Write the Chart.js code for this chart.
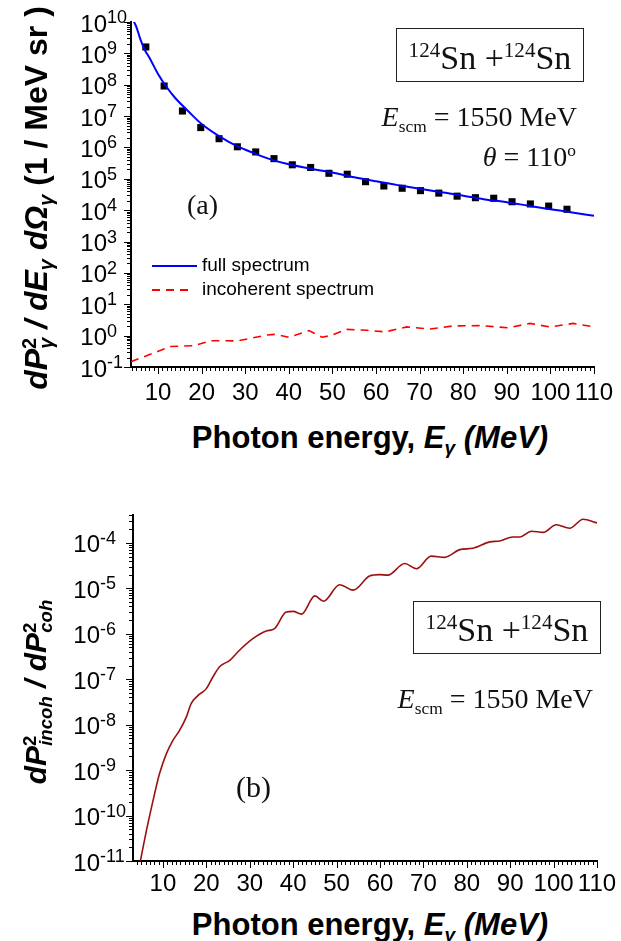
<!DOCTYPE html>
<html>
<head>
<meta charset="utf-8">
<script src="https://cdn.jsdelivr.net/npm/chart.js@4.4.0/dist/chart.umd.min.js"></script>
<style>
    body { margin: 0; background: #fff; }
    #page { position: relative; width: 621px; height: 941px; overflow: hidden; background: #fff;
        font-family: "Liberation Sans", Arial, sans-serif; color: #000; }
    canvas { position: absolute; left: 0; }
    .t { position: absolute; white-space: nowrap; line-height: 1; }
    .serif { font-family: "Liberation Serif", "Times New Roman", serif; color: #111; }
    .box { position: absolute; border: 1px solid #222; }
    .sup { font-size: 0.62em; position: relative; top: -0.55em; }
    .sub { font-size: 0.62em; position: relative; top: 0.32em; }
    .ytitle { position: absolute; width: 440px; height: 40px; line-height: 40px; text-align: center;
        font-weight: bold; white-space: nowrap; transform: rotate(-90deg); }
    .xtitle { position: absolute; left: 70px; width: 600px; text-align: center; font-weight: bold;
        font-size: 31px; line-height: 1; white-space: nowrap; }
</style>
</head>
<body>
<div id="page">
    <canvas id="chart_top" width="621" height="400" style="top:0"></canvas>
    <canvas id="chart_bottom" width="621" height="404" style="top:490px"></canvas>

    <!-- panel (a) -->
    <div class="ytitle" style="left:-184px; top:178px; font-size:32px;"><i>dP</i><span class="sup">2</span><span class="sub" style="margin-left:-0.55em"><i>γ</i></span> <i>/ dE</i><span class="sub"><i>γ</i></span> <i>dΩ</i><span class="sub"><i>γ</i></span> (1 / MeV sr )</div>
    <div class="xtitle" style="top:422px;">Photon energy, <i>E<span class="sub">γ</span> (MeV)</i></div>
    <div class="box" style="left:396px; top:28px; width:186px; height:52px;"></div>
    <div class="t serif" style="left:396px; width:188px; text-align:center; top:41px; font-size:34px;"><span class="sup">124</span>Sn +<span class="sup">124</span>Sn</div>
    <div class="t serif" style="right:44px; top:103px; font-size:28px;"><i>E</i><span class="sub">scm</span> = 1550 MeV</div>
    <div class="t serif" style="right:45px; top:143px; font-size:28px;"><i>θ</i> = 110<span class="sup">o</span></div>
    <div class="t serif" style="left:187px; top:191px; font-size:28px;">(a)</div>
    <div style="position:absolute; left:152px; top:265px; width:45px; border-top:2px solid #0000ff;"></div>
    <svg style="position:absolute; left:152px; top:285px;" width="40" height="10"><line x1="0" y1="5" x2="40" y2="5" stroke="#ff0000" stroke-width="2" stroke-dasharray="8 6"/></svg>
    <div class="t" style="left:202px; top:255px; font-size:19px;">full spectrum</div>
    <div class="t" style="left:202px; top:279px; font-size:19px;">incoherent spectrum</div>

    <!-- panel (b) -->
    <div class="ytitle" style="left:-184px; top:672px; font-size:30px;"><i>dP</i><span class="sup">2</span><span class="sub" style="margin-left:-0.55em"><i>incoh</i></span> <i>/ dP</i><span class="sup">2</span><span class="sub" style="margin-left:-0.55em"><i>coh</i></span></div>
    <div class="xtitle" style="top:909px;">Photon energy, <i>E<span class="sub">γ</span> (MeV)</i></div>
    <div class="box" style="left:413px; top:601px; width:186px; height:51px;"></div>
    <div class="t serif" style="left:413px; width:188px; text-align:center; top:613px; font-size:34px;"><span class="sup">124</span>Sn +<span class="sup">124</span>Sn</div>
    <div class="t serif" style="right:28px; top:685px; font-size:28px;"><i>E</i><span class="sub">scm</span> = 1550 MeV</div>
    <div class="t serif" style="left:236px; top:772px; font-size:30px;">(b)</div>
</div>

<script>
'use strict';
// panel (a): full spectrum curve
const fullX = [4, 4.5, 5, 6, 7, 8, 10, 12, 14, 17, 20, 24, 28, 32, 36, 40, 45, 50, 55, 60, 65, 70, 75, 80, 85, 90, 95, 100, 105, 110];
const fullY = [1.6e10, 1.0e10, 7.1e9, 2.7e9, 1.26e9, 7.4e8, 2.2e8, 8.3e7, 3.7e7, 1.4e7, 5.6e6, 2.3e6, 1.12e6, 6.6e5, 4.1e5,
    2.9e5, 2.1e5, 1.6e5, 1.12e5, 8.3e4, 6.3e4, 4.8e4, 3.7e4, 2.9e4, 2.2e4, 1.8e4, 1.38e4, 1.07e4, 8.5e3, 6.6e3];

// panel (a): black square markers
const dotX = [7.2, 11.4, 15.6, 19.8, 24.0, 28.2, 32.4, 36.6, 40.8, 45.0, 49.2, 53.4, 57.6, 61.8, 66.0, 70.2, 74.4,
    78.6, 82.8, 87.0, 91.2, 95.4, 99.6, 103.8];
const dotY = [1.6e9, 9.1e7, 1.45e7, 4.3e6, 1.9e6, 1.05e6, 7.2e5, 4.4e5, 2.8e5, 2.3e5, 1.5e5, 1.4e5, 8.1e4, 5.9e4,
    5.0e4, 4.2e4, 3.5e4, 2.8e4, 2.5e4, 2.4e4, 1.86e4, 1.58e4, 1.35e4, 1.07e4];

// panel (a): incoherent spectrum (dashed)
const incX = [3.8, 9.9, 12.9, 18.2, 22.1, 28.2, 35, 37, 40, 44.6, 47.6, 49.5, 53.3, 57.9, 62.1, 67.1, 72.4, 77.7,
    83.8, 90.3, 95.3, 99.9, 105.2, 110];
const incY = [0.148, 0.31, 0.45, 0.48, 0.69, 0.68, 1.05, 1.1, 0.89, 1.45, 0.89, 1.0, 1.58, 1.48, 1.32, 1.9, 1.62,
    2.04, 2.09, 1.78, 2.45, 1.9, 2.45, 1.9];

// panel (b): incoherent / coherent ratio
const ratioX = [4.8, 6.2, 7.7, 9.2, 10.8, 12.3, 13.8, 15.4, 16.5, 18.1, 20, 21.5, 23.1, 25.4, 27.7, 30.7, 33.8, 35.7,
    38.4, 40, 41.9, 45, 47, 50.7, 53.8, 57.6, 59.9, 61.8, 65.7, 68.4, 71.8, 74.9, 78.4, 81.4, 85.3, 87.6, 90.6, 92.2,
    94.9, 97.6, 100.6, 103.7, 106.8, 110];
const ratioY = [1.0e-11, 4.7e-11, 2.1e-10, 8.3e-10, 2.3e-9, 4.5e-9, 7.4e-9, 1.48e-8, 2.9e-8, 4.4e-8, 6.2e-8, 1.12e-7,
    1.9e-7, 2.6e-7, 4.4e-7, 7.8e-7, 1.15e-6, 1.29e-6, 3.0e-6, 3.1e-6, 2.7e-6, 6.8e-6, 5.2e-6, 1.2e-5, 9.1e-6, 1.86e-5,
    2.0e-5, 1.95e-5, 3.5e-5, 2.7e-5, 5.1e-5, 4.8e-5, 7.1e-5, 7.6e-5, 1.05e-4, 1.1e-4, 1.35e-4, 1.35e-4, 1.8e-4,
    1.7e-4, 2.5e-4, 2.1e-4, 3.3e-4, 2.75e-4];

const xTicks = [10, 20, 30, 40, 50, 60, 70, 80, 90, 100, 110];
const FONT = '"Liberation Sans", Arial, sans-serif';

const pts = (xs, ys) => xs.map((x, i) => ({x: x, y: ys[i]}));

// outward tick marks and 10^n labels, placed with the chart's own scales
const axisDecor = {
    id: 'axisDecor',
    afterDraw(chart, args, opts) {
        const {ctx, chartArea: a} = chart;
        const x = chart.scales.x, y = chart.scales.y;
        ctx.save();
        ctx.strokeStyle = '#000';
        ctx.lineWidth = 1;
        ctx.beginPath();
        for (let v = Math.ceil(x.min); v <= x.max; v++) {
            const px = Math.round(x.getPixelForValue(v)) + 0.5;
            const len = v % 10 === 0 ? 7 : 4;
            ctx.moveTo(px, a.bottom);
            ctx.lineTo(px, a.bottom + len);
        }
        const lo = Math.floor(Math.log10(y.min)), hi = Math.ceil(Math.log10(y.max));
        for (let n = lo; n <= hi; n++) {
            for (let k = 1; k < 10; k++) {
                const v = k * Math.pow(10, n);
                if (v < y.min * 0.999 || v > y.max * 1.001) continue;
                const py = Math.round(y.getPixelForValue(v)) + 0.5;
                const len = k === 1 ? 7 : 4;
                ctx.moveTo(a.left, py);
                ctx.lineTo(a.left - len, py);
            }
        }
        ctx.stroke();

        ctx.fillStyle = '#000';
        ctx.textBaseline = 'alphabetic';
        for (let n = lo; n <= hi; n++) {
            const v = Math.pow(10, n);
            if (v < y.min * 0.999 || v > y.max * 1.001) continue;
            const py = y.getPixelForValue(v);
            ctx.font = '24px ' + FONT;
            ctx.textAlign = 'right';
            ctx.fillText('10', opts.labelRight, py + 9.5);
            ctx.font = '18px ' + FONT;
            ctx.textAlign = 'left';
            ctx.fillText(String(n), opts.labelRight, py + 1);
        }
        ctx.restore();
    }
};

const baseScales = (xmin, padding, yw, ymin, ymax) => ({
    x: {
        type: 'linear',
        min: xmin,
        max: 110,
        grid: {display: false},
        border: {display: true, color: '#000', width: 2},
        afterBuildTicks: (s) => { s.ticks = xTicks.map(v => ({value: v})); },
        afterFit: (s) => { s.height = 33; },
        ticks: {
            color: '#000',
            font: {family: FONT, size: 24},
            padding: padding,
            autoSkip: false,
            maxRotation: 0,
        },
    },
    y: {
        type: 'logarithmic',
        min: ymin,
        max: ymax,
        grid: {display: false},
        border: {display: true, color: '#000', width: 2},
        ticks: {display: false},
        afterFit: (s) => { s.width = yw; },
    },
});

new Chart(document.getElementById('chart_top'), {
    type: 'line',
    data: {
        datasets: [
            {
                label: 'full spectrum',
                data: pts(fullX, fullY),
                borderColor: '#0000ff',
                borderWidth: 2,
                pointRadius: 0,
                cubicInterpolationMode: 'monotone',
            },
            {
                label: 'incoherent spectrum',
                data: pts(incX, incY),
                borderColor: '#ff0000',
                borderWidth: 1.6,
                borderDash: [8, 6],
                pointRadius: 0,
                tension: 0,
            },
            {
                type: 'scatter',
                label: 'data',
                data: pts(dotX, dotY),
                pointStyle: 'rect',
                pointRadius: 5,
                backgroundColor: '#000',
                borderColor: '#000',
                borderWidth: 0,
            }],
    },
    options: {
        responsive: false,
        animation: false,
        layout: {padding: {top: 22, right: 27, left: 0, bottom: 0}},
        plugins: {
            legend: {display: false},
            tooltip: {enabled: false},
            axisDecor: {labelRight: 107},
        },
        scales: baseScales(3.8, 4, 131, 0.1, 1e10),
    },
    plugins: [axisDecor],
});

new Chart(document.getElementById('chart_bottom'), {
    type: 'line',
    data: {
        datasets: [
            {
                label: 'incoh / coh',
                data: pts(ratioX, ratioY),
                borderColor: '#9b1010',
                borderWidth: 1.6,
                pointRadius: 0,
                cubicInterpolationMode: 'monotone',
            }],
    },
    options: {
        responsive: false,
        animation: false,
        layout: {padding: {top: 25, right: 24, left: 0, bottom: 0}},
        plugins: {
            legend: {display: false},
            tooltip: {enabled: false},
            axisDecor: {labelRight: 100},
        },
        scales: baseScales(3.1, 1, 133, 1e-11, 4.1e-4),
    },
    plugins: [axisDecor],
});
</script>
</body>
</html>
